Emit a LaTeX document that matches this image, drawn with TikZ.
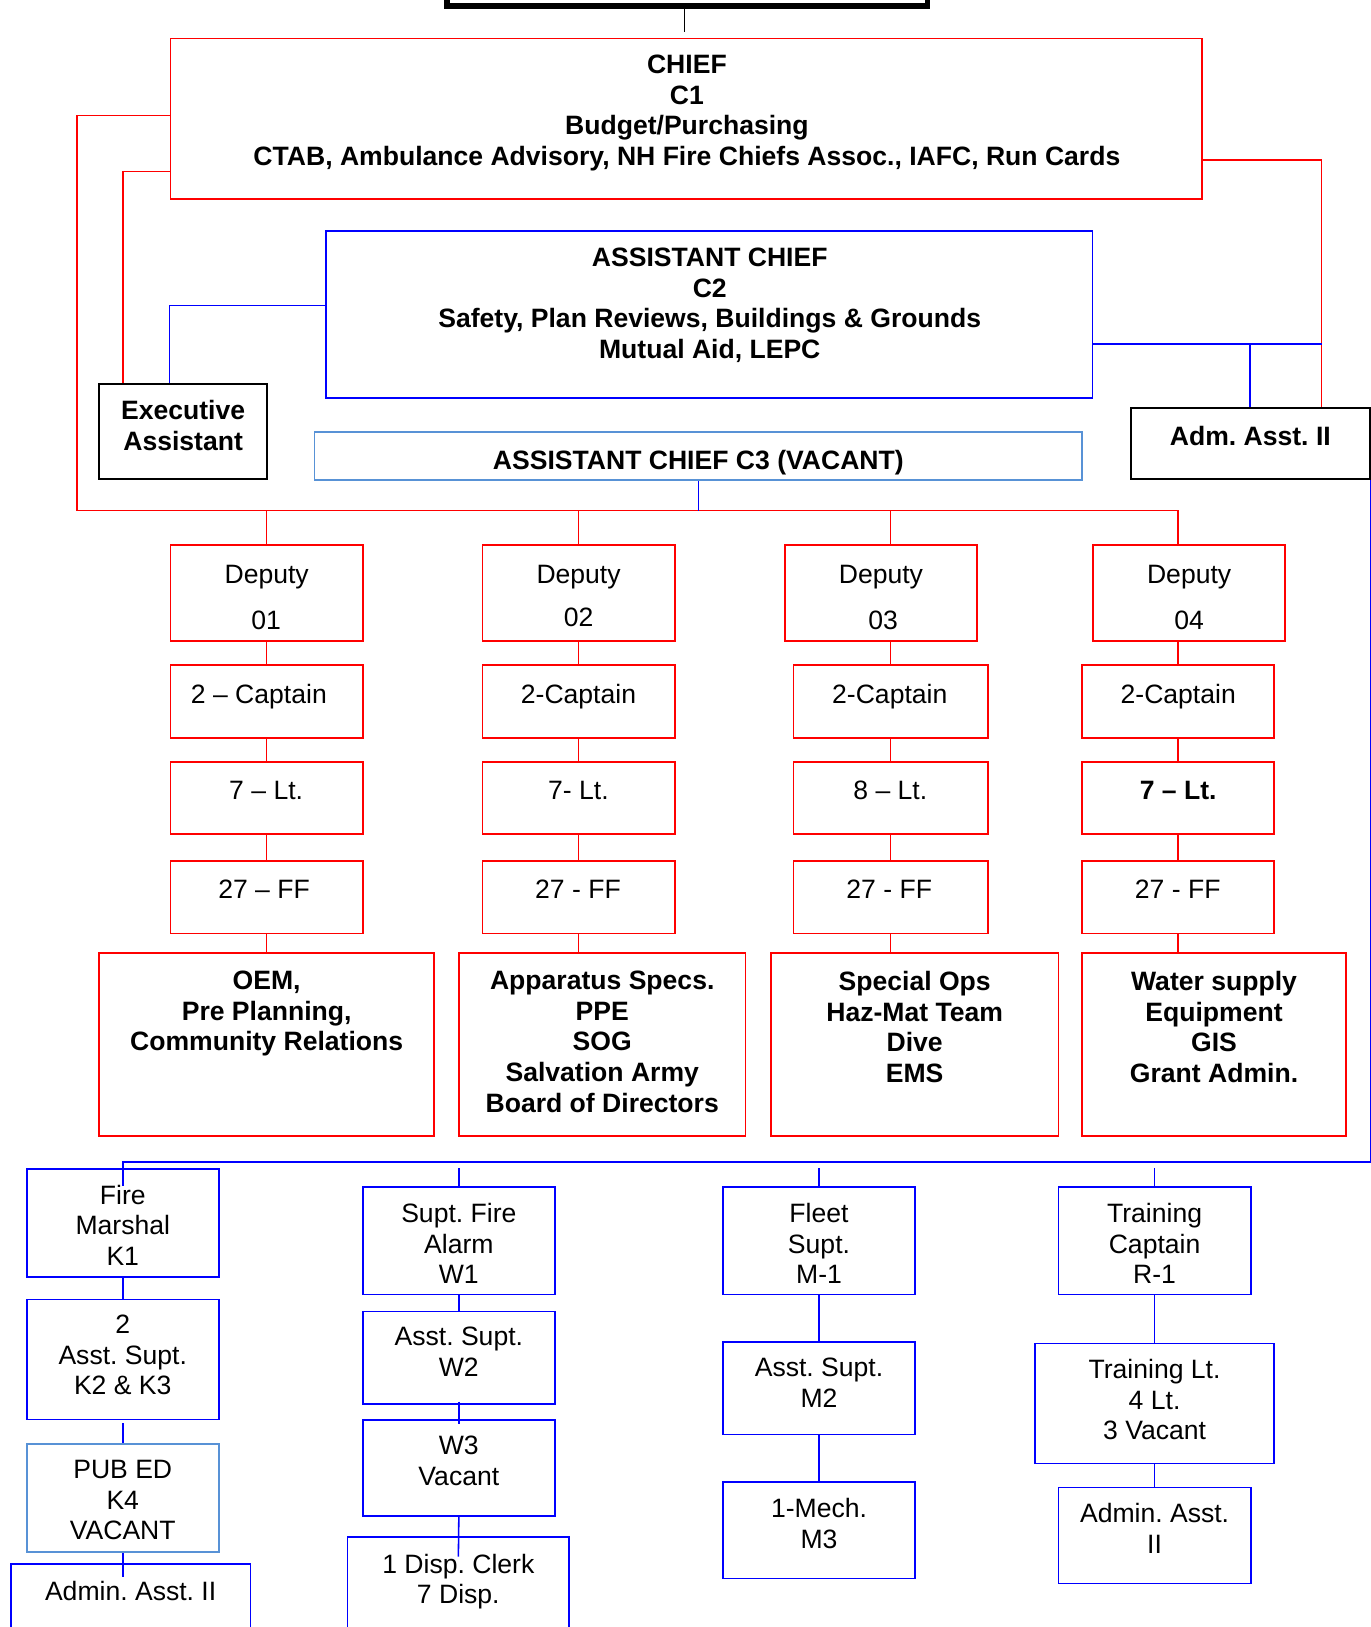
\documentclass[tikz,border=0pt]{standalone}
\usepackage{fontspec}
\setmainfont{Liberation Sans}
\frenchspacing
\usetikzlibrary{fit,calc}
\definecolor{cRed}{RGB}{255,0,0}
\definecolor{cBlue}{RGB}{0,0,255}
\definecolor{cLBlue}{RGB}{88,146,214}
\newcommand{\fz}{\fontsize{12.8}{14.75}\selectfont\frenchspacing}
\newcommand{\mkbox}[6]{\node[#1, fit={(#3,#4) (#5,#6)}] (#2) {};}
\newcommand{\mytext}[4]{\node[tx,#1] at (#2,{#3-18}) {#4};}
\begin{document}
\begin{tikzpicture}[x=0.5pt, y=-0.5pt,
  box/.style={draw, inner sep=0pt, line width=0.85pt},
  rbox/.style={box, draw=cRed},
  bbox/.style={box, draw=cBlue},
  lbbox/.style={box, draw=cLBlue},
  kbox/.style={box, draw=black},
  tx/.style={align=center, inner sep=0pt, outer sep=0pt, anchor=north, font=\fz, execute at begin node={\rule{0pt}{10pt}}},
  txb/.style={font=\fz\bfseries},
  rl/.style={draw=cRed, line width=0.75pt},
  bl/.style={draw=cBlue, line width=0.75pt},
  kl/.style={draw=black, line width=0.6pt}]
\useasboundingbox (0,0) rectangle (1321,1568);
\fill[white] (0,0) rectangle (1321,1568);

% ---------- top ----------
\mkbox{kbox, line width=2.7pt}{topbox}{431}{-30}{894}{5.5}
\coordinate (tend) at (660,31);
\draw[kl] (tend |- topbox.south) -- (tend);

\mkbox{rbox}{chief}{164.3}{37.2}{1158.2}{192}
\mytext{txb}{662}{71}{CHIEF\\C1\\Budget/Purchasing\\CTAB, Ambulance Advisory, NH Fire Chiefs Assoc., IAFC, Run Cards}

\mkbox{bbox}{c2}{314.2}{222.6}{1052.9}{383.2}
\mytext{txb}{684}{257}{ASSISTANT CHIEF\\C2\\Safety, Plan Reviews, Buildings \& Grounds\\Mutual Aid, LEPC}

\mkbox{kbox}{exec}{95.3}{370}{257.6}{461.9}
\mytext{txb}{176.5}{404}{Executive\\Assistant}

\mkbox{kbox}{adm}{1089.8}{393.5}{1320}{461.9}
\mytext{txb}{1205}{427}{Adm. Asst. II}

\mkbox{lbbox}{c3}{303.2}{416.6}{1043}{462.5}
\mytext{txb}{673}{450}{ASSISTANT CHIEF C3 (VACANT)}

% ---------- deputy columns ----------
\mkbox{rbox}{dep1}{164.3}{525.4}{349.6}{618}
\mkbox{rbox}{dep2}{465}{525.4}{650.2}{618}
\mkbox{rbox}{dep3}{756.4}{525.4}{941.7}{618}
\mkbox{rbox}{dep4}{1053.7}{525.4}{1238.2}{618}
\mytext{}{257}{560}{Deputy}
\mytext{}{557.6}{560}{Deputy}
\mytext{}{849}{560}{Deputy}
\mytext{}{1146}{560}{Deputy}
\mytext{}{256.5}{605}{01}
\mytext{}{557.6}{602}{02}
\mytext{}{851}{605}{03}
\mytext{}{1146}{605}{04}

\mkbox{rbox}{cap1}{164.3}{641.2}{349.6}{711.5}
\mkbox{rbox}{cap2}{465}{641.2}{650.2}{711.5}
\mkbox{rbox}{cap3}{764.8}{641.2}{951.8}{711.5}
\mkbox{rbox}{cap4}{1042.8}{641.2}{1228.1}{711.5}
\mytext{}{249.5}{675.5}{2 – Captain}
\mytext{}{557.5}{675.5}{2-Captain}
\mytext{}{857.5}{675.5}{2-Captain}
\mytext{}{1135.5}{675.5}{2-Captain}

\mkbox{rbox}{lt1}{164.3}{734}{349.6}{804}
\mkbox{rbox}{lt2}{465}{734}{650.2}{804}
\mkbox{rbox}{lt3}{764.8}{734}{951.8}{804}
\mkbox{rbox}{lt4}{1042.8}{734}{1228.1}{804}
\mytext{}{256.5}{768.5}{7 – Lt.}
\mytext{}{557.5}{768.5}{7- Lt.}
\mytext{}{858}{768.5}{8 – Lt.}
\mytext{txb}{1135.5}{768.5}{7 – Lt.}

\mkbox{rbox}{ff1}{164.3}{829.8}{349.6}{899.6}
\mkbox{rbox}{ff2}{465}{829.8}{650.2}{899.6}
\mkbox{rbox}{ff3}{764.8}{829.8}{951.8}{899.6}
\mkbox{rbox}{ff4}{1042.8}{829.8}{1228.1}{899.6}
\mytext{}{254.5}{863.5}{27 – FF}
\mytext{}{557}{863.5}{27 - FF}
\mytext{}{857}{863.5}{27 - FF}
\mytext{}{1135}{863.5}{27 - FF}

\mkbox{rbox}{low1}{95.2}{918.5}{418.6}{1095}
\mkbox{rbox}{low2}{442.2}{918.5}{718.5}{1095}
\mkbox{rbox}{low3}{742.9}{918.5}{1020.2}{1095}
\mkbox{rbox}{low4}{1042.8}{918.5}{1297.4}{1095}
\mytext{txb}{257}{954}{OEM,\\Pre Planning,\\Community Relations}
\mytext{txb}{580.4}{954}{Apparatus Specs.\\PPE\\SOG\\Salvation Army\\Board of Directors}
\mytext{txb}{881.5}{954}{Special Ops\\Haz-Mat Team\\Dive\\EMS}
\mytext{txb}{1170}{954}{Water supply\\Equipment\\GIS\\Grant Admin.}

% ---------- lower blue columns ----------
\mkbox{bbox}{fm}{25.7}{1126.5}{211}{1230.6}
\mkbox{bbox}{k2}{25.7}{1252.3}{211}{1368}
\mkbox{lbbox}{pub}{25.7}{1391.4}{211}{1496}
\mkbox{bbox}{aa1}{10.3}{1507}{241.5}{1600}
\mytext{}{118.3}{1160}{Fire\\Marshal\\K1}
\mytext{}{118.3}{1285.5}{2\\Asst. Supt.\\K2 \& K3}
\mytext{}{118.3}{1425.4}{PUB ED\\K4\\VACANT}
\mytext{}{125.9}{1540}{Admin. Asst. II}

\mkbox{bbox}{w1}{349.6}{1144}{534.8}{1247.5}
\mkbox{bbox}{w2}{349.6}{1264}{534.8}{1352.9}
\mkbox{bbox}{w3}{349.6}{1368.3}{534.8}{1460.8}
\mkbox{bbox}{disp}{334.8}{1481}{548.7}{1600}
\mytext{}{442.2}{1177.5}{Supt. Fire\\Alarm\\W1}
\mytext{}{442.2}{1297}{Asst. Supt.\\W2}
\mytext{}{442.2}{1402}{W3\\Vacant}
\mytext{}{441.7}{1515.4}{1 Disp. Clerk\\7 Disp.}

\mkbox{bbox}{m1}{696.7}{1144}{881.9}{1247.5}
\mkbox{bbox}{m2}{696.7}{1293.5}{881.9}{1382.4}
\mkbox{bbox}{m3}{696.7}{1428.3}{881.9}{1521.2}
\mytext{}{789.3}{1177.5}{Fleet\\Supt.\\M-1}
\mytext{}{789.3}{1327}{Asst. Supt.\\M2}
\mytext{}{789.3}{1462}{1-Mech.\\M3}

\mkbox{bbox}{tc}{1020}{1144}{1205.3}{1247.5}
\mkbox{bbox}{tl}{997.3}{1294.7}{1228}{1410.4}
\mkbox{bbox}{aa4}{1020}{1433.5}{1205.3}{1526}
\mytext{}{1112.7}{1177.5}{Training\\Captain\\R-1}
\mytext{}{1112.7}{1328}{Training Lt.\\4 Lt.\\3 Vacant}
\mytext{}{1112.7}{1467}{Admin. Asst.\\II}

% ---------- red connectors ----------
\draw[rl] (chief.west |- 0,111.5) -| (74,492) -- (cap4.north |- 0,492) -- (cap4.north |- dep4.north);
\draw[rl] (dep1.north |- 0,492) -- (dep1.north);
\draw[rl] (dep2.north |- 0,492) -- (dep2.north);
\draw[rl] (cap3.north |- 0,492) -- (cap3.north |- dep3.north);
\draw[rl] (chief.west |- 0,165.4) -| ($(exec.north west)+(24.3,0)$);
\draw[rl] (chief.east |- 0,154.2) -| ($(adm.north west)+(184.7,0)$);

\draw[rl] (dep1.south) -- (cap1.north);
\draw[rl] (cap1.south) -- (lt1.north);
\draw[rl] (lt1.south) -- (ff1.north);
\draw[rl] (ff1.south) -- (ff1.south |- low1.north);
\draw[rl] (dep2.south) -- (cap2.north);
\draw[rl] (cap2.south) -- (lt2.north);
\draw[rl] (lt2.south) -- (ff2.north);
\draw[rl] (ff2.south) -- (ff2.south |- low2.north);
\draw[rl] (cap3.north |- dep3.south) -- (cap3.north);
\draw[rl] (cap3.south) -- (lt3.north);
\draw[rl] (lt3.south) -- (ff3.north);
\draw[rl] (ff3.south) -- (ff3.south |- low3.north);
\draw[rl] (cap4.north |- dep4.south) -- (cap4.north);
\draw[rl] (cap4.south) -- (lt4.north);
\draw[rl] (lt4.south) -- (ff4.north);
\draw[rl] (ff4.south) -- (ff4.south |- low4.north);

% ---------- blue connectors ----------
\draw[bl] (c2.west |- 0,294.5) -| ($(exec.north west)+(69,0)$);
\draw[bl] (c2.east |- 0,331.5) -- (1274.5,331.5);
\draw[bl] (adm.north |- 0,331.5) -- (adm.north);
\draw[bl] (c3.south) -- (c3.south |- 0,492);
\draw[bl] (adm.south east) -- (adm.south east |- 0,1119.7) -- (fm.north |- 0,1119.7) -- ($(fm.north)+(0,17)$);
\draw[bl] (w1.north |- 0,1125.8) -- (w1.north);
\draw[bl] (m1.north |- 0,1125.8) -- (m1.north);
\draw[bl] (tc.north |- 0,1125.8) -- (tc.north);

\draw[bl] (fm.south) -- (k2.north);
\draw[bl] ($(k2.south)+(0,3)$) -- (pub.north);
\draw[bl] (pub.south) -- ($(pub.south)+(0,23)$);
\draw[bl] (w1.south) -- (w2.north);
\draw[bl] ($(w2.south)+(0,-3)$) -- ($(w3.north)+(0,5)$);
\draw[bl] (w3.south) -- ($(disp.north)+(0,20)$);
\draw[bl] (m1.south) -- (m2.north);
\draw[bl] (m2.south) -- (m3.north);
\draw[bl] (tc.south) -- (tl.north);
\draw[bl] (tl.south) -- (aa4.north);
\end{tikzpicture}
\end{document}
